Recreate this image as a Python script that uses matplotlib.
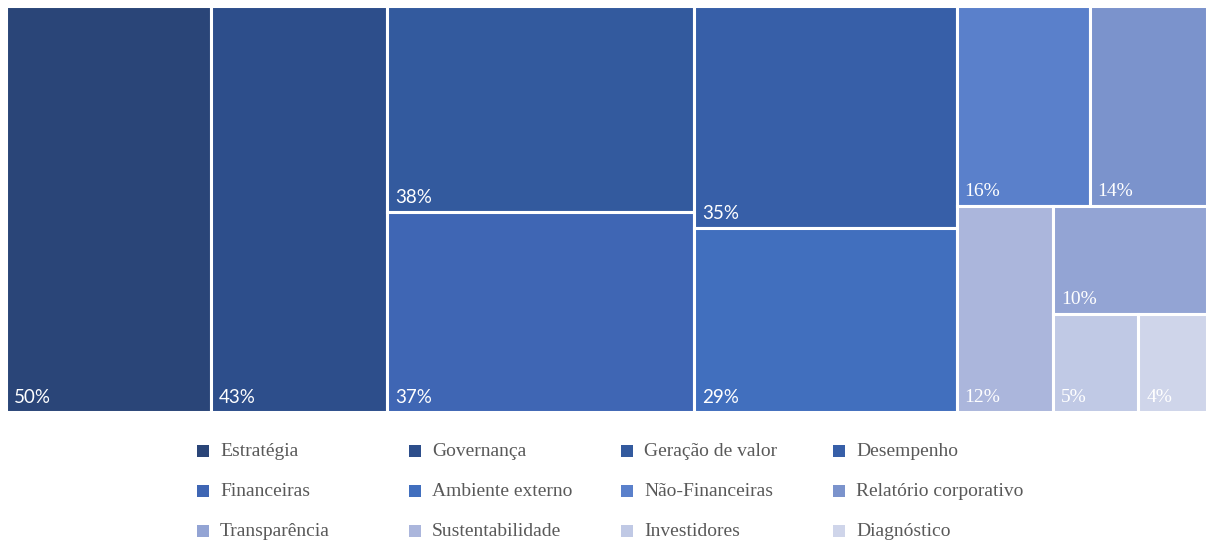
import matplotlib.pyplot as plt
from matplotlib.patches import Rectangle

# data in legend order
categories = ["Estratégia", "Governança", "Geração de valor", "Desempenho",
              "Financeiras", "Ambiente externo", "Não-Financeiras", "Relatório corporativo",
              "Transparência", "Sustentabilidade", "Investidores", "Diagnóstico"]
values = [50, 43, 38, 35, 37, 29, 16, 14, 10, 12, 5, 4]
colors = ["#2a4578", "#2d4e8b", "#335a9e", "#375fa8", "#3f66b4", "#416fbe",
          "#5a80cb", "#7b93cc", "#93a4d4", "#abb6dc", "#c0c9e5", "#cfd5ea"]

# nesting of the treemap (indices into values), splits alternate columns / rows
groups = [0, 1, [2, 4], [3, 5], [[6, 7], [9, [8, [10, 11]]]]]


def total(node):
    if isinstance(node, list):
        return sum(total(n) for n in node)
    return values[node]


def layout(node, x, y, w, h, horizontal, out):
    if not isinstance(node, list):
        out.append((node, x, y, w, h))
        return
    s = total(node)
    pos = 0
    for child in node:
        frac = total(child) / s
        if horizontal:
            layout(child, x + pos * w, y, frac * w, h, not horizontal, out)
        else:
            layout(child, x, y + pos * h, w, frac * h, not horizontal, out)
        pos += frac


rects = []
layout(groups, 0, 0, 1, 1, True, rects)

fig = plt.figure(figsize=(12.09, 5.40), dpi=100)
ax = fig.add_axes([0.0050, 0.237, 0.9930, 0.751])
ax.set_xlim(0, 1)
ax.set_ylim(1, 0)
ax.axis("off")

for i, x, y, w, h in rects:
    ax.add_patch(Rectangle((x, y), w, h, facecolor=colors[i], edgecolor="white", linewidth=2.2))
    if values[i] >= 29:
        font = dict(family="Lato", size=13.5)
    else:
        font = dict(family="Liberation Serif", size=14)
    ax.annotate(f"{values[i]}%", (x, y + h), xytext=(5.5, 4.5), textcoords="offset points",
                color="white", ha="left", va="bottom", **font)

# legend, 4 columns, row-major
lax = fig.add_axes([0, 0, 1, 1], facecolor="none")
lax.set_xlim(0, 1209)
lax.set_ylim(540, 0)
lax.axis("off")
for k, name in enumerate(categories):
    col, row = k % 4, k // 4
    cx = 197 + col * 212
    cy = 451 + row * 40
    lax.add_patch(Rectangle((cx, cy - 6), 12, 12, facecolor=colors[k], edgecolor="none"))
    lax.text(cx + 23, cy + 1, name, family="Liberation Serif", fontsize=14,
             color="#595959", ha="left", va="center")

fig.savefig("out.png", dpi=100)
